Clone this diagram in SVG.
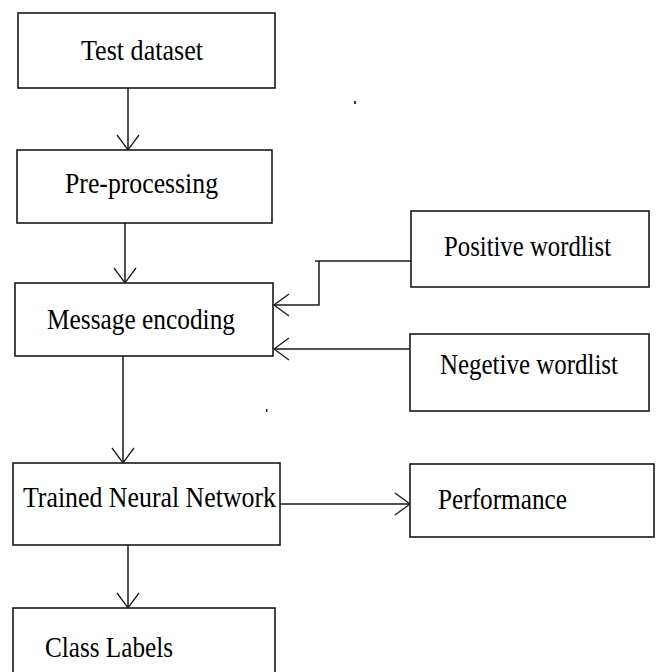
<svg xmlns="http://www.w3.org/2000/svg" width="657" height="672" viewBox="0 0 657 672">
<style>
.box{fill:#fff;stroke:#1a1a1a;stroke-width:1.6}
.lbl{font-family:"Liberation Serif","Times New Roman",serif;font-size:29px;fill:#000}
.conn{fill:none;stroke:#1a1a1a;stroke-width:1.5}
</style>
<defs>
<marker id="arr" markerUnits="userSpaceOnUse" markerWidth="30" markerHeight="30" viewBox="-20 -15 30 30" refX="0" refY="0" orient="auto" overflow="visible">
<path d="M-15,-11 L0,0 L-15,11" fill="none" stroke="#1a1a1a" stroke-width="1.3"/>
</marker>
</defs>
<rect width="657" height="672" fill="#fff"/>
<g id="connectors">
<line class="conn" x1="128" y1="88" x2="128" y2="150" marker-end="url(#arr)"/>
<line class="conn" x1="125" y1="223" x2="125" y2="283" marker-end="url(#arr)"/>
<line class="conn" x1="123" y1="356" x2="123" y2="463" marker-end="url(#arr)"/>
<line class="conn" x1="128" y1="545" x2="128" y2="608" marker-end="url(#arr)"/>
<line class="conn" x1="315" y1="261" x2="411" y2="261"/>
<polyline class="conn" points="319,261 319,305 274,305" marker-end="url(#arr)"/>
<line class="conn" x1="410" y1="349" x2="274" y2="349" marker-end="url(#arr)"/>
<line class="conn" x1="280" y1="504" x2="410" y2="504" marker-end="url(#arr)"/>
</g>
<g id="test-dataset">
<rect class="box" x="18" y="13" width="257" height="75"/>
<text class="lbl" x="81" y="59.5" textLength="122" lengthAdjust="spacingAndGlyphs">Test dataset</text>
</g>
<g id="pre-processing">
<rect class="box" x="17" y="150" width="255" height="73"/>
<text class="lbl" x="65" y="193" textLength="153" lengthAdjust="spacingAndGlyphs">Pre-processing</text>
</g>
<g id="message-encoding">
<rect class="box" x="15" y="283" width="258" height="73"/>
<text class="lbl" x="47" y="329" textLength="188" lengthAdjust="spacingAndGlyphs">Message encoding</text>
</g>
<g id="positive-wordlist">
<rect class="box" x="411" y="211" width="238" height="76"/>
<text class="lbl" x="444" y="256" textLength="167" lengthAdjust="spacingAndGlyphs">Positive wordlist</text>
</g>
<g id="negative-wordlist">
<rect class="box" x="410" y="334" width="239" height="77"/>
<text class="lbl" x="440" y="374" textLength="178" lengthAdjust="spacingAndGlyphs">Negetive wordlist</text>
</g>
<g id="trained-neural-network">
<rect class="box" x="13" y="463" width="267" height="82"/>
<text class="lbl" x="23" y="507" textLength="253" lengthAdjust="spacingAndGlyphs">Trained Neural Network</text>
</g>
<g id="performance">
<rect class="box" x="410" y="464" width="244" height="73"/>
<text class="lbl" x="438" y="509" textLength="129" lengthAdjust="spacingAndGlyphs">Performance</text>
</g>
<g id="class-labels">
<rect class="box" x="13" y="608" width="262" height="80"/>
<text class="lbl" x="45" y="657" textLength="128" lengthAdjust="spacingAndGlyphs">Class Labels</text>
</g>
<rect x="354" y="101" width="2" height="3" fill="#333"/>
<rect x="266" y="409" width="1.5" height="3" fill="#333"/>
</svg>
